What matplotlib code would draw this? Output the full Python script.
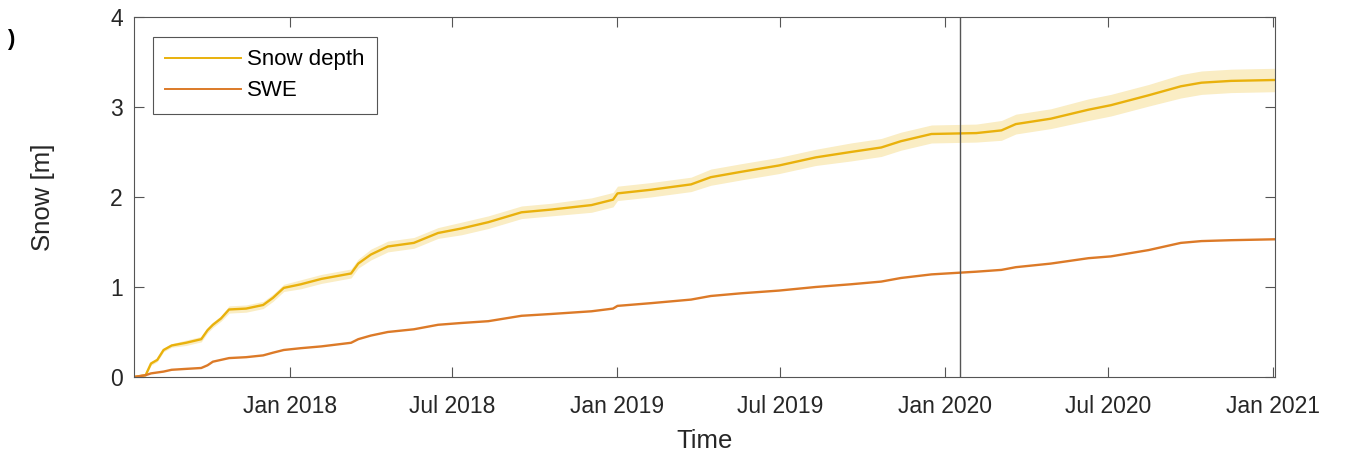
import numpy as np
import pandas as pd
import matplotlib
matplotlib.use("Agg")
import matplotlib.pyplot as plt
import matplotlib.dates as mdates

plt.rcParams['font.family'] = ['Liberation Sans', 'DejaVu Sans']

# cumulative snow record
dates = pd.to_datetime([
    "2017-07-11", "2017-07-24", "2017-07-30", "2017-08-06", "2017-08-13", "2017-08-22",
    "2017-09-07", "2017-09-24", "2017-10-01", "2017-10-07", "2017-10-16", "2017-10-25",
    "2017-11-13", "2017-12-02", "2017-12-13", "2017-12-25", "2018-01-13", "2018-02-05",
    "2018-03-10", "2018-03-18", "2018-04-01", "2018-04-20", "2018-05-19", "2018-06-15",
    "2018-07-11", "2018-08-10", "2018-09-16", "2018-10-19", "2018-12-03", "2018-12-27",
    "2019-01-01", "2019-02-07", "2019-03-24", "2019-04-15", "2019-05-19", "2019-06-30",
    "2019-08-10", "2019-09-18", "2019-10-22", "2019-11-13", "2019-12-17", "2020-02-05",
    "2020-03-04", "2020-03-20", "2020-04-28", "2020-06-09", "2020-07-04", "2020-08-15",
    "2020-09-20", "2020-10-13", "2020-11-15", "2021-01-03",
])
snow_depth = [
    0.00, 0.02, 0.15, 0.19, 0.30, 0.35,
    0.38, 0.42, 0.52, 0.58, 0.65, 0.75,
    0.76, 0.80, 0.88, 0.99, 1.03, 1.09,
    1.15, 1.26, 1.36, 1.45, 1.49, 1.60,
    1.65, 1.72, 1.83, 1.86, 1.91, 1.97,
    2.04, 2.08, 2.14, 2.22, 2.28, 2.35,
    2.44, 2.50, 2.55, 2.62, 2.70, 2.71,
    2.74, 2.81, 2.87, 2.97, 3.02, 3.13,
    3.23, 3.27, 3.29, 3.30,
]
depth_unc = [
    0.00, 0.01, 0.02, 0.02, 0.02, 0.02,
    0.03, 0.03, 0.03, 0.03, 0.03, 0.04,
    0.04, 0.04, 0.04, 0.04, 0.05, 0.05,
    0.05, 0.05, 0.06, 0.06, 0.06, 0.06,
    0.07, 0.07, 0.07, 0.07, 0.08, 0.08,
    0.08, 0.08, 0.08, 0.09, 0.09, 0.09,
    0.09, 0.10, 0.10, 0.10, 0.10, 0.10,
    0.11, 0.11, 0.11, 0.12, 0.12, 0.12,
    0.13, 0.13, 0.13, 0.13,
]
swe = [
    0.00, 0.02, 0.04, 0.05, 0.06, 0.08,
    0.09, 0.10, 0.13, 0.17, 0.19, 0.21,
    0.22, 0.24, 0.27, 0.30, 0.32, 0.34,
    0.38, 0.42, 0.46, 0.50, 0.53, 0.58,
    0.60, 0.62, 0.68, 0.70, 0.73, 0.76,
    0.79, 0.82, 0.86, 0.90, 0.93, 0.96,
    1.00, 1.03, 1.06, 1.10, 1.14, 1.17,
    1.19, 1.22, 1.26, 1.32, 1.34, 1.41,
    1.49, 1.51, 1.52, 1.53,
]
marker_date = pd.Timestamp("2020-01-18")

c_depth = '#E9B10C'
c_band = '#FAEDC4'
c_swe = '#DC7A28'
c_text = '#262626'

fig = plt.figure(figsize=(13.45, 4.53), dpi=100)
ax = fig.add_axes([0.0996, 0.1678, 0.8484, 0.7947])

sd = np.array(snow_depth)
unc = np.array(depth_unc)
ax.fill_between(dates, sd - unc, sd + unc, color=c_band, lw=0)
ax.plot(dates, sd, color=c_depth, lw=1.7, label='Snow depth')
ax.plot(dates, swe, color=c_swe, lw=1.7, label='SWE')
ax.axvline(marker_date, color='#555555', lw=1.0)

ax.set_xlim(pd.Timestamp("2017-07-11"), pd.Timestamp("2021-01-03"))
ax.set_ylim(0, 4)
ax.set_yticks([0, 1, 2, 3, 4])
ax.xaxis.set_major_locator(mdates.MonthLocator(bymonth=[1, 7]))
ax.xaxis.set_major_formatter(mdates.DateFormatter('%b %Y'))

ax.tick_params(direction='in', length=7, width=0.8, top=True, right=True,
               labelsize=16.5, colors='#555555', labelcolor=c_text)
ax.tick_params(axis='x', pad=13)
ax.tick_params(axis='y', pad=8)
for s in ax.spines.values():
    s.set_color('#555555')
    s.set_linewidth(0.8)

ax.set_xlabel('Time', fontsize=18.5, color=c_text, labelpad=8)
ax.set_ylabel('Snow [m]', fontsize=18.5, color=c_text, labelpad=40)

leg = ax.legend(loc='upper left', bbox_to_anchor=(0.0167, 0.944), borderaxespad=0,
                fontsize=16, fancybox=False, framealpha=1, edgecolor='#555555',
                handlelength=3.4, handletextpad=0.3, borderpad=0.55, labelspacing=0.45)
leg.get_frame().set_linewidth(0.8)
for line in leg.get_lines():
    line.set_linewidth(1.4)

fig.text(0.005, 0.9, ')', fontsize=16, fontweight='bold', color='black')

fig.savefig('out.png', dpi=100)
